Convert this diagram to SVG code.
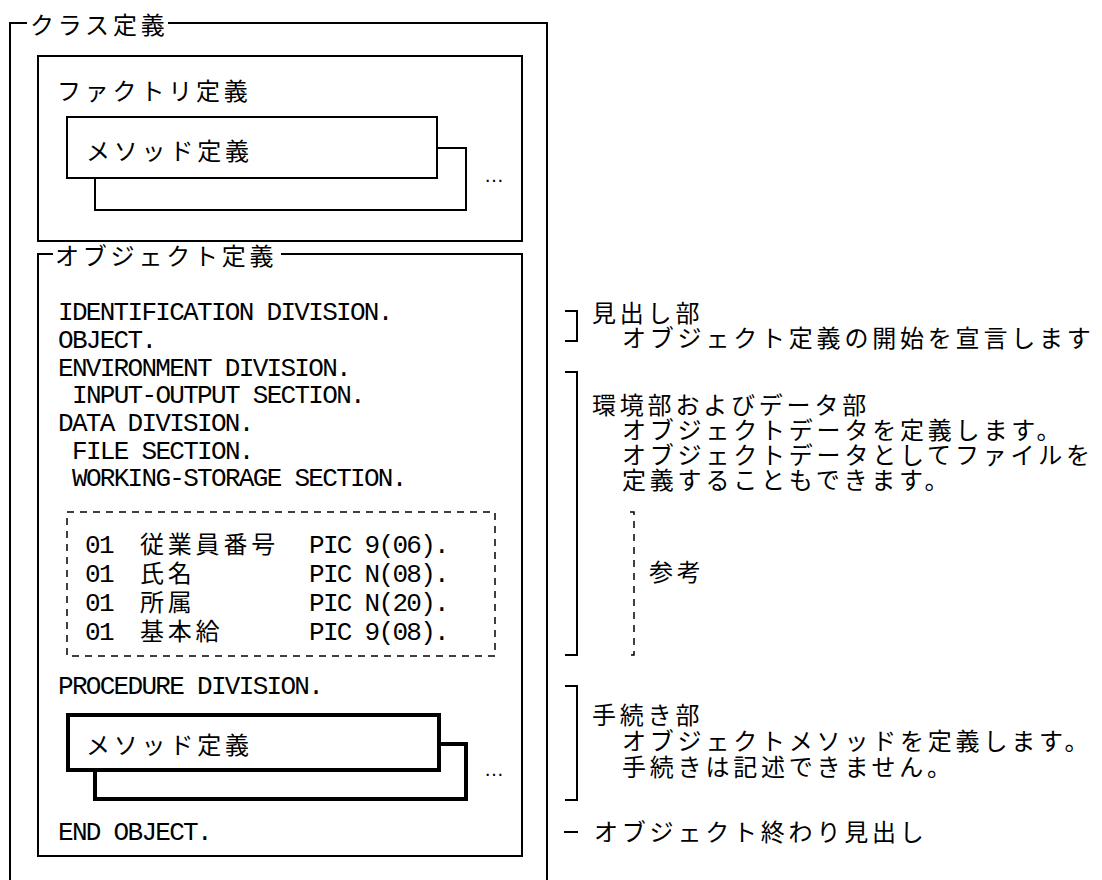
<svg xmlns="http://www.w3.org/2000/svg" width="1102" height="880" viewBox="0 0 1102 880">
<style>
.jp{font-family:"Noto Sans CJK JP","Noto Sans CJK SC",sans-serif;font-size:24px;letter-spacing:3.8px;fill:#000}
.cd{font-family:"Liberation Mono",monospace;font-size:26px;letter-spacing:-1.7px;fill:#000}
.box{fill:none;stroke:#000;stroke-width:2}
.thick{fill:none;stroke:#000;stroke-width:4}
.br{fill:none;stroke:#000;stroke-width:2}
.dash{fill:none;stroke:#000;stroke-width:1.5;stroke-dasharray:7 6}
.dots{font-family:"Liberation Sans",sans-serif;font-size:20px;fill:#000}
</style>
<rect width="1102" height="880" fill="#fff"/>
<g id="class-def">
<path class="box" d="M27,23 H10 V880 M168,23 H547 V880"/>
<text class="jp" x="30" y="34">クラス定義</text>
</g>
<g id="factory-def">
<rect class="box" x="38" y="56" width="484" height="185"/>
<text class="jp" x="57" y="100">ファクトリ定義</text>
</g>
<g id="factory-method">
<path class="box" d="M437,148 H466 V210 H95 V178"/>
<rect class="box" x="67" y="117" width="370" height="61"/>
<text class="jp" x="86" y="160">メソッド定義</text>
<text class="dots" x="484" y="182">…</text>
</g>
<g id="object-def">
<path class="box" d="M53,254 H38 V856 H522 V254 H281"/>
<text class="jp" x="55" y="265">オブジェクト定義</text>
<text class="cd" x="58" y="320">IDENTIFICATION DIVISION.</text>
<text class="cd" x="58" y="348">OBJECT.</text>
<text class="cd" x="58" y="376">ENVIRONMENT DIVISION.</text>
<text class="cd" x="72" y="403">INPUT-OUTPUT SECTION.</text>
<text class="cd" x="58" y="431">DATA DIVISION.</text>
<text class="cd" x="72" y="459">FILE SECTION.</text>
<text class="cd" x="72" y="486">WORKING-STORAGE SECTION.</text>
<text class="cd" x="58" y="694">PROCEDURE DIVISION.</text>
<text class="cd" x="58" y="840">END OBJECT.</text>
</g>
<g id="data-items">
<rect class="dash" x="67" y="512" width="428" height="144"/>
<text class="cd" x="85" y="553">01</text><text class="jp" x="140" y="553">従業員番号</text><text class="cd" x="309" y="553">PIC 9(06).</text>
<text class="cd" x="85" y="582">01</text><text class="jp" x="140" y="582">氏名</text><text class="cd" x="309" y="582">PIC N(08).</text>
<text class="cd" x="85" y="611">01</text><text class="jp" x="140" y="611">所属</text><text class="cd" x="309" y="611">PIC N(20).</text>
<text class="cd" x="85" y="640">01</text><text class="jp" x="140" y="640">基本給</text><text class="cd" x="309" y="640">PIC 9(08).</text>
</g>
<g id="object-method">
<path class="thick" d="M439,744 H466 V799 H95 V770"/>
<rect class="thick" x="68" y="715" width="371" height="55"/>
<text class="jp" x="86" y="754">メソッド定義</text>
<text class="dots" x="484" y="776">…</text>
</g>
<g id="connectors">
<path class="br" d="M565,311 H577 V341 H565"/>
<path class="br" d="M565,372 H577 V655 H565"/>
<path class="dash" d="M630,512 H634 V655 H630"/>
<path class="br" d="M565,686 H577 V800 H565"/>
<path class="br" d="M564,832 H578"/>
</g>
<g id="note-heading">
<text class="jp" x="592" y="322">見出し部</text>
<text class="jp" x="622" y="347">オブジェクト定義の開始を宣言します</text>
</g>
<g id="note-env-data">
<text class="jp" x="592" y="414">環境部およびデータ部</text>
<text class="jp" x="622" y="439">オブジェクトデータを定義します。</text>
<text class="jp" x="622" y="464">オブジェクトデータとしてファイルを</text>
<text class="jp" x="622" y="489">定義することもできます。</text>
</g>
<g id="note-reference">
<text class="jp" x="649" y="581">参考</text>
</g>
<g id="note-procedure">
<text class="jp" x="592" y="724">手続き部</text>
<text class="jp" x="622" y="750">オブジェクトメソッドを定義します。</text>
<text class="jp" x="622" y="776">手続きは記述できません。</text>
</g>
<g id="note-end">
<text class="jp" x="594" y="841">オブジェクト終わり見出し</text>
</g>
</svg>
